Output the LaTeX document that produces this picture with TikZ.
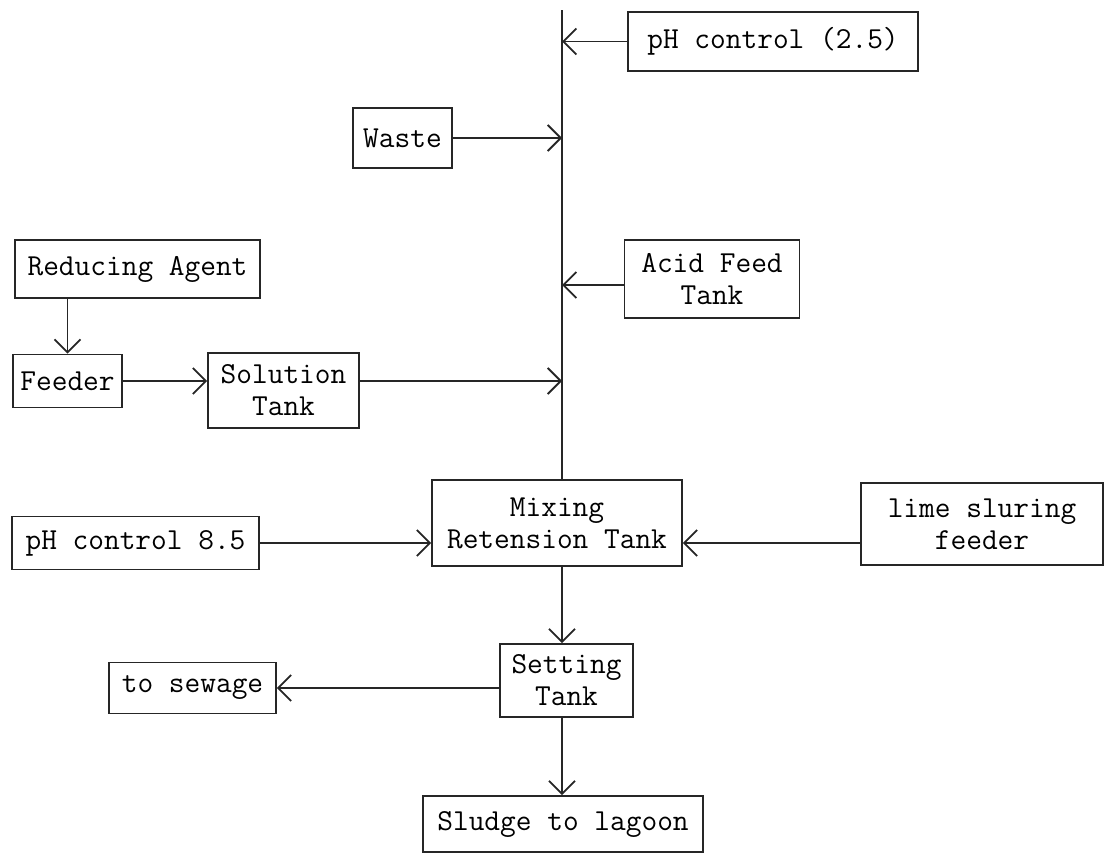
\documentclass[tikz,border=0pt]{standalone}
\usetikzlibrary{arrows.meta}
\begin{document}
\begin{tikzpicture}[x=1pt,y=-1pt,
  box/.style={draw=black!85,line width=1.8pt,inner sep=0pt,align=center,
    font=\fontsize{30.5}{32}\selectfont\ttfamily},
  flow/.style={draw=black!85,line width=1.8pt,-{Straight Barb[length=13pt,width=26pt,line width=1.8pt]}},
  pipe/.style={draw=black!85,line width=1.8pt}]
\useasboundingbox (0,0) rectangle (1106,854);
\node[box,minimum width=290pt,minimum height=59pt] (ph25) at (773,41.5) {pH control (2.5)};
\node[box,minimum width=99pt,minimum height=60pt] (waste) at (402.5,138) {Waste};
\node[box,minimum width=245pt,minimum height=58pt] (reduce) at (137.5,269) {Reducing Agent};
\node[box,minimum width=175pt,minimum height=78pt] (acid) at (712,279) {Acid Feed\\Tank};
\node[box,minimum width=109pt,minimum height=53pt] (feeder) at (67.5,381) {Feeder};
\node[box,minimum width=151pt,minimum height=75pt] (solution) at (283.5,390.5) {Solution\\Tank};
\node[box,minimum width=250pt,minimum height=86pt] (mixing) at (557,523) {Mixing\\Retension Tank};
\node[box,minimum width=247pt,minimum height=53pt] (ph85) at (135.5,543) {pH control 8.5};
\node[box,minimum width=242pt,minimum height=82pt] (lime) at (982,524) {lime sluring\\feeder};
\node[box,minimum width=133pt,minimum height=73pt] (setting) at (566.5,680.5) {Setting\\Tank};
\node[box,minimum width=167pt,minimum height=51pt] (sewage) at (192.5,688) {to sewage};
\node[box,minimum width=280pt,minimum height=56pt] (sludge) at (563,824) {Sludge to lagoon};
\coordinate (top) at (562,10);
\draw[pipe] (top) -- (top |- mixing.north);
\draw[flow] (ph25.west) -- (ph25.west -| top);
\draw[flow] (waste.east) -- (waste.east -| top);
\draw[flow] ([yshift=-6pt]acid.west) -- ([yshift=-6pt]acid.west -| top);
\draw[flow] (reduce.south -| feeder.north) -- (feeder.north);
\draw[flow] (feeder.east) -- (feeder.east -| solution.west);
\draw[flow] (feeder.east -| solution.east) -- (feeder.east -| top);
\draw[flow] (ph85.east) -- (ph85.east -| mixing.west);
\draw[flow] (lime.west |- ph85.east) -- (mixing.east |- ph85.east);
\draw[flow] (mixing.south -| top) -- (setting.north -| top);
\draw[flow] (setting.west |- sewage.east) -- (sewage.east);
\draw[flow] (setting.south -| top) -- (sludge.north -| top);
\end{tikzpicture}
\end{document}
